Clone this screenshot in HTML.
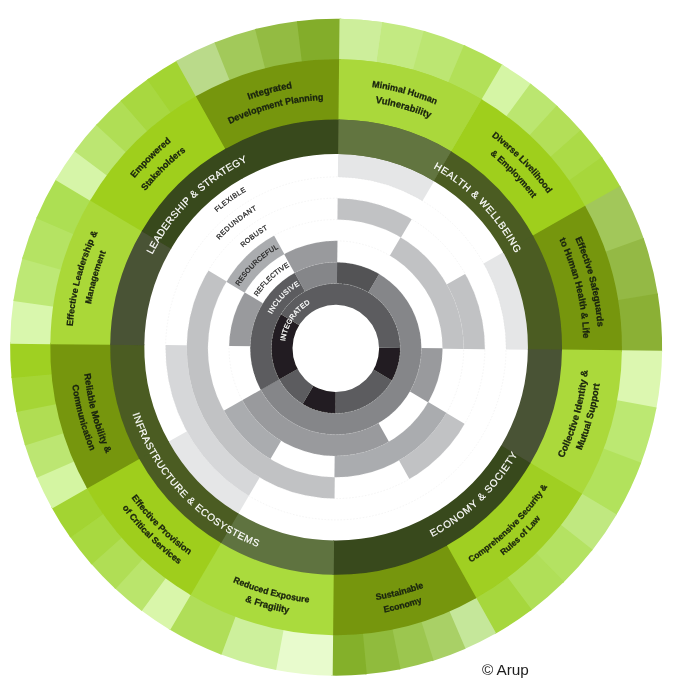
<!DOCTYPE html>
<html lang="en"><head><meta charset="utf-8"><title>City Resilience Framework</title>
<style>html,body{margin:0;padding:0;background:#fff}body{width:679px;height:700px;overflow:hidden}svg{display:block}text{font-family:"Liberation Sans",Arial,sans-serif}.lab{font-weight:700;font-size:9.3px;fill:#1a240e;stroke:#1a240e;stroke-width:0.28px}.ttl{font-size:10px;fill:#fff;letter-spacing:0.45px;stroke:#fff;stroke-width:0.18px}.q{font-size:6.6px;letter-spacing:0.6px;fill:#262626;stroke:#262626;stroke-width:0.26px}.qw{fill:#fff;stroke:#fff}</style></head><body>
<svg width="679" height="700" viewBox="0 0 679 700">
<defs><filter id="noaa" x="0" y="0" width="679" height="700" filterUnits="userSpaceOnUse"><feGaussianBlur stdDeviation="0.42"/></filter></defs>
<rect width="679" height="700" fill="#fff"/>
<g filter="url(#noaa)">
<g transform="translate(335.8,348.4) scale(1,1.0075) rotate(0.6)">
<circle r="195.35" fill="#fff"/>
<defs>
<clipPath id="c0"><circle r="195.35"/></clipPath>
<clipPath id="c1"><circle r="170.2"/></clipPath>
<clipPath id="c2"><circle r="149.05"/></clipPath>
<clipPath id="c3"><circle r="127.9"/></clipPath>
<clipPath id="c4"><circle r="106.75"/></clipPath>
<clipPath id="c5"><circle r="85.6"/></clipPath>
<clipPath id="c6"><circle r="64.45"/></clipPath>
</defs>
<g clip-path="url(#c0)">
<path d="M0.3,-1.2L0.3,-200.55A199.35,199.35 0 0 1 100.43,-173.58Z" fill="#e5e6e7"/>
<path d="M0.3,-1.2L172.94,-100.88A199.35,199.35 0 0 1 199.65,-0.68Z" fill="#e5e6e7"/>
<path d="M0.3,-1.2L-99.38,171.44A199.35,199.35 0 0 1 -172.6,98.02Z" fill="#e5e6e7"/>
</g>
<g clip-path="url(#c1)">
<circle r="171.2" fill="#fff"/>
<path d="M0.3,-1.2L-86.8,149.66A174.2,174.2 0 0 1 -173.9,-1.66Z" fill="#d6d7d9"/>
</g>
<g clip-path="url(#c2)">
<circle r="150.05" fill="#fff"/>
<path d="M0.3,-1.2L0.3,-154.25A153.05,153.05 0 0 1 77.17,-133.54Z" fill="#c1c2c4"/>
<path d="M0.3,-1.2L132.85,-77.73A153.05,153.05 0 0 1 153.35,-0.8Z" fill="#c1c2c4"/>
<path d="M0.3,-1.2L132.85,75.32A153.05,153.05 0 0 1 76.48,131.55Z" fill="#c1c2c4"/>
<path d="M0.3,-1.2L0.3,151.85A153.05,153.05 0 0 1 -132.04,-78.07Z" fill="#c1c2c4"/>
</g>
<g clip-path="url(#c3)">
<circle r="128.9" fill="#fff"/>
<path d="M0.3,-1.2L66.25,-115.43A131.9,131.9 0 0 1 132.2,-0.85Z" fill="#c1c2c4"/>
<path d="M0.3,-1.2L114.53,64.75A131.9,131.9 0 0 1 -0.05,130.7Z" fill="#aaacaf"/>
<path d="M0.3,-1.2L-65.65,113.03A131.9,131.9 0 0 1 -114.1,64.45Z" fill="#aaacaf"/>
<path d="M0.3,-1.2L-113.93,-67.15A131.9,131.9 0 0 1 -65.35,-115.6Z" fill="#aaacaf"/>
</g>
<g clip-path="url(#c4)">
<circle r="107.75" fill="#fff"/>
<path d="M0.3,-1.2L111.05,-1.2A110.75,110.75 0 0 1 96.07,54.43Z" fill="#999a9d"/>
<path d="M0.3,-1.2L55.68,94.71A110.75,110.75 0 0 1 -95.76,53.92Z" fill="#999a9d"/>
<path d="M0.3,-1.2L-110.45,-1.2A110.75,110.75 0 0 1 -95.47,-56.83Z" fill="#999a9d"/>
<path d="M0.3,-1.2L-55.08,-97.11A110.75,110.75 0 0 1 0.59,-111.95Z" fill="#999a9d"/>
</g>
<g clip-path="url(#c5)">
<circle r="86.6" fill="#fff"/>
<path d="M0.3,-1.2L0.3,-90.8A89.6,89.6 0 0 1 45.3,-78.68Z" fill="#525355"/>
<path d="M0.3,-1.2L45.1,-78.8A89.6,89.6 0 1 1 -77.41,43.4Z" fill="#858689"/>
<path d="M0.3,-1.2L-77.3,43.6A89.6,89.6 0 0 1 -44.3,-78.91Z" fill="#5b5c5e"/>
<path d="M0.3,-1.2L-44.5,-78.8A89.6,89.6 0 0 1 0.53,-90.8Z" fill="#858689"/>
</g>
<g clip-path="url(#c6)">
<circle r="65.45" fill="#fff"/>
<path d="M0.3,-1.2L68.75,-1.2A68.45,68.45 0 0 1 59.49,33.18Z" fill="#231f20"/>
<path d="M0.3,-1.2L59.58,33.02A68.45,68.45 0 0 1 0.12,67.25Z" fill="#5b5c5e"/>
<path d="M0.3,-1.2L0.3,67.25A68.45,68.45 0 0 1 -34.08,57.99Z" fill="#231f20"/>
<path d="M0.3,-1.2L-33.92,58.08A68.45,68.45 0 0 1 -59.07,32.87Z" fill="#5b5c5e"/>
<path d="M0.3,-1.2L-58.98,33.03A68.45,68.45 0 0 1 -58.89,-35.58Z" fill="#231f20"/>
<path d="M0.3,-1.2L-58.98,-35.42A68.45,68.45 0 0 1 68.75,-1.02Z" fill="#5b5c5e"/>
</g>
<circle r="43.3" fill="#fff"/>
<circle r="64.45" fill="none" stroke="#d9d9d9" stroke-opacity="0.55" stroke-width="0.5" stroke-dasharray="1.6 1.6"/>
<circle r="85.6" fill="none" stroke="#d9d9d9" stroke-opacity="0.55" stroke-width="0.5" stroke-dasharray="1.6 1.6"/>
<circle r="106.75" fill="none" stroke="#d9d9d9" stroke-opacity="0.55" stroke-width="0.5" stroke-dasharray="1.6 1.6"/>
<circle r="127.9" fill="none" stroke="#d9d9d9" stroke-opacity="0.55" stroke-width="0.5" stroke-dasharray="1.6 1.6"/>
<circle r="149.05" fill="none" stroke="#d9d9d9" stroke-opacity="0.55" stroke-width="0.5" stroke-dasharray="1.6 1.6"/>
<circle r="170.2" fill="none" stroke="#d9d9d9" stroke-opacity="0.55" stroke-width="0.5" stroke-dasharray="1.6 1.6"/>
</g>
<g transform="translate(336.1,347.2) scale(1,1.0075) rotate(0.6)">
<path d="M0,-326A326,326 0 0 1 44.24,-322.98L38.65,-282.16A284.8,284.8 0 0 0 0,-284.8Z" fill="#cdee9b"/>
<path d="M42.55,-323.21A326,326 0 0 1 86.02,-314.45L75.15,-274.71A284.8,284.8 0 0 0 37.17,-282.36Z" fill="#c3ea82"/>
<path d="M84.38,-314.89A326,326 0 0 1 126.33,-300.53L110.36,-262.55A284.8,284.8 0 0 0 73.71,-275.1Z" fill="#bce672"/>
<path d="M124.75,-301.18A326,326 0 0 1 164.48,-281.47L143.69,-245.9A284.8,284.8 0 0 0 108.99,-263.12Z" fill="#b2e058"/>
<path d="M163,-282.32A326,326 0 0 1 193,-262.73L168.61,-229.53A284.8,284.8 0 0 0 142.4,-246.64Z" fill="#d5f5a5"/>
<path d="M191.62,-263.74A326,326 0 0 1 219.4,-241.12L191.67,-210.65A284.8,284.8 0 0 0 167.4,-230.41Z" fill="#bbe670"/>
<path d="M218.14,-242.27A326,326 0 0 1 243.4,-216.87L212.64,-189.46A284.8,284.8 0 0 0 190.57,-211.65Z" fill="#b3df58"/>
<path d="M242.27,-218.14A326,326 0 0 1 264.74,-190.23L231.28,-166.19A284.8,284.8 0 0 0 211.65,-190.57Z" fill="#acdb47"/>
<path d="M263.74,-191.62A326,326 0 0 1 283.17,-161.52L247.39,-141.11A284.8,284.8 0 0 0 230.41,-167.4Z" fill="#a7d73b"/>
<path d="M282.32,-163A326,326 0 0 1 306.92,-109.89L268.13,-96A284.8,284.8 0 0 0 246.64,-142.4Z" fill="#a2c75a"/>
<path d="M306.34,-111.5A326,326 0 0 1 321.34,-54.93L280.73,-47.99A284.8,284.8 0 0 0 267.62,-97.41Z" fill="#94b944"/>
<path d="M321.05,-56.61A326,326 0 0 1 326,1.71L284.8,1.49A284.8,284.8 0 0 0 280.47,-49.46Z" fill="#8bb035"/>
<path d="M326,-0A326,326 0 0 1 320.75,58.29L280.21,50.92A284.8,284.8 0 0 0 284.8,-0Z" fill="#dcf7b0"/>
<path d="M321.05,56.61A326,326 0 0 1 305.75,113.1L267.11,98.81A284.8,284.8 0 0 0 280.47,49.46Z" fill="#bce872"/>
<path d="M306.34,111.5A326,326 0 0 1 281.47,164.48L245.9,143.69A284.8,284.8 0 0 0 267.62,97.41Z" fill="#b2e25c"/>
<path d="M282.32,163A326,326 0 0 1 257.59,199.81L225.04,174.56A284.8,284.8 0 0 0 246.64,142.4Z" fill="#c0e880"/>
<path d="M258.63,198.46A326,326 0 0 1 229.31,231.72L200.33,202.44A284.8,284.8 0 0 0 225.95,173.38Z" fill="#b4e262"/>
<path d="M230.52,230.52A326,326 0 0 1 197.1,259.67L172.19,226.85A284.8,284.8 0 0 0 201.38,201.38Z" fill="#b0df58"/>
<path d="M198.46,258.63A326,326 0 0 1 161.52,283.17L141.11,247.39A284.8,284.8 0 0 0 173.38,225.95Z" fill="#a6d73d"/>
<path d="M163,282.32A326,326 0 0 1 131.03,298.51L114.47,260.78A284.8,284.8 0 0 0 142.4,246.64Z" fill="#c5e79a"/>
<path d="M132.6,297.82A326,326 0 0 1 99.11,310.57L86.59,271.32A284.8,284.8 0 0 0 115.84,260.18Z" fill="#a9d066"/>
<path d="M100.74,310.04A326,326 0 0 1 66.11,319.23L57.75,278.88A284.8,284.8 0 0 0 88.01,270.86Z" fill="#9cc650"/>
<path d="M67.78,318.88A326,326 0 0 1 32.38,324.39L28.29,283.39A284.8,284.8 0 0 0 59.21,278.58Z" fill="#90bb3c"/>
<path d="M34.08,324.21A326,326 0 0 1 -1.71,326L-1.49,284.8A284.8,284.8 0 0 0 29.77,283.24Z" fill="#84b02a"/>
<path d="M0,326A326,326 0 0 1 -58.29,320.75L-50.92,280.21A284.8,284.8 0 0 0 0,284.8Z" fill="#e8fbcd"/>
<path d="M-56.61,321.05A326,326 0 0 1 -113.1,305.75L-98.81,267.11A284.8,284.8 0 0 0 -49.46,280.47Z" fill="#cdf09c"/>
<path d="M-111.5,306.34A326,326 0 0 1 -164.48,281.47L-143.69,245.9A284.8,284.8 0 0 0 -97.41,267.62Z" fill="#b0de58"/>
<path d="M-163,282.32A326,326 0 0 1 -193,262.73L-168.61,229.53A284.8,284.8 0 0 0 -142.4,246.64Z" fill="#d9f6aa"/>
<path d="M-191.62,263.74A326,326 0 0 1 -219.4,241.12L-191.67,210.65A284.8,284.8 0 0 0 -167.4,230.41Z" fill="#bae56c"/>
<path d="M-218.14,242.27A326,326 0 0 1 -243.4,216.87L-212.64,189.46A284.8,284.8 0 0 0 -190.57,211.65Z" fill="#b0de55"/>
<path d="M-242.27,218.14A326,326 0 0 1 -264.74,190.23L-231.28,166.19A284.8,284.8 0 0 0 -211.65,190.57Z" fill="#a8d93f"/>
<path d="M-263.74,191.62A326,326 0 0 1 -283.17,161.52L-247.39,141.11A284.8,284.8 0 0 0 -230.41,167.4Z" fill="#a3d430"/>
<path d="M-282.32,163A326,326 0 0 1 -298.51,131.03L-260.78,114.47A284.8,284.8 0 0 0 -246.64,142.4Z" fill="#d4f5a2"/>
<path d="M-297.82,132.6A326,326 0 0 1 -310.57,99.11L-271.32,86.59A284.8,284.8 0 0 0 -260.18,115.84Z" fill="#bce672"/>
<path d="M-310.04,100.74A326,326 0 0 1 -319.23,66.11L-278.88,57.75A284.8,284.8 0 0 0 -270.86,88.01Z" fill="#b0dd52"/>
<path d="M-318.88,67.78A326,326 0 0 1 -324.39,32.38L-283.39,28.29A284.8,284.8 0 0 0 -278.58,59.21Z" fill="#a5d535"/>
<path d="M-324.21,34.08A326,326 0 0 1 -326,-1.71L-284.8,-1.49A284.8,284.8 0 0 0 -283.24,29.77Z" fill="#9fd021"/>
<path d="M-326,0A326,326 0 0 1 -322.98,-44.24L-282.16,-38.65A284.8,284.8 0 0 0 -284.8,0Z" fill="#d9f7ad"/>
<path d="M-323.21,-42.55A326,326 0 0 1 -314.45,-86.02L-274.71,-75.15A284.8,284.8 0 0 0 -282.36,-37.17Z" fill="#bde874"/>
<path d="M-314.89,-84.38A326,326 0 0 1 -300.53,-126.33L-262.55,-110.36A284.8,284.8 0 0 0 -275.1,-73.71Z" fill="#b5e364"/>
<path d="M-301.18,-124.75A326,326 0 0 1 -281.47,-164.48L-245.9,-143.69A284.8,284.8 0 0 0 -263.12,-108.99Z" fill="#addf52"/>
<path d="M-282.32,-163A326,326 0 0 1 -262.73,-193L-229.53,-168.61A284.8,284.8 0 0 0 -246.64,-142.4Z" fill="#d6f5a8"/>
<path d="M-263.74,-191.62A326,326 0 0 1 -241.12,-219.4L-210.65,-191.67A284.8,284.8 0 0 0 -230.41,-167.4Z" fill="#bce672"/>
<path d="M-242.27,-218.14A326,326 0 0 1 -216.87,-243.4L-189.46,-212.64A284.8,284.8 0 0 0 -211.65,-190.57Z" fill="#b0de55"/>
<path d="M-218.14,-242.27A326,326 0 0 1 -190.23,-264.74L-166.19,-231.28A284.8,284.8 0 0 0 -190.57,-211.65Z" fill="#a8d840"/>
<path d="M-191.62,-263.74A326,326 0 0 1 -161.52,-283.17L-141.11,-247.39A284.8,284.8 0 0 0 -167.4,-230.41Z" fill="#a3d432"/>
<path d="M-163,-282.32A326,326 0 0 1 -123.18,-301.83L-107.61,-263.69A284.8,284.8 0 0 0 -142.4,-246.64Z" fill="#bada8a"/>
<path d="M-124.75,-301.18A326,326 0 0 1 -82.73,-315.33L-72.27,-275.48A284.8,284.8 0 0 0 -108.99,-263.12Z" fill="#a2c95a"/>
<path d="M-84.38,-314.89A326,326 0 0 1 -40.86,-323.43L-35.69,-282.55A284.8,284.8 0 0 0 -73.71,-275.1Z" fill="#93bb42"/>
<path d="M-42.55,-323.21A326,326 0 0 1 1.71,-326L1.49,-284.8A284.8,284.8 0 0 0 -37.17,-282.36Z" fill="#83ad2a"/>
<path d="M0,-326A326,326 0 0 1 42.55,-323.21L37.17,-282.36A284.8,284.8 0 0 0 0,-284.8Z" fill="#cdee9b"/>
<path d="M0,-285.8A285.8,285.8 0 0 1 144.19,-246.76L113.47,-194.18A224.9,224.9 0 0 0 0,-224.9Z" fill="#aad83b"/>
<path d="M142.9,-247.51A285.8,285.8 0 0 1 248.25,-141.6L195.36,-111.43A224.9,224.9 0 0 0 112.45,-194.77Z" fill="#9fcf1e"/>
<path d="M247.51,-142.9A285.8,285.8 0 0 1 285.8,1.5L224.9,1.18A224.9,224.9 0 0 0 194.77,-112.45Z" fill="#76960d"/>
<path d="M285.8,-0A285.8,285.8 0 0 1 246.76,144.19L194.18,113.47A224.9,224.9 0 0 0 224.9,-0Z" fill="#abd93b"/>
<path d="M247.51,142.9A285.8,285.8 0 0 1 141.6,248.25L111.43,195.36A224.9,224.9 0 0 0 194.77,112.45Z" fill="#a0cf20"/>
<path d="M142.9,247.51A285.8,285.8 0 0 1 -1.5,285.8L-1.18,224.9A224.9,224.9 0 0 0 112.45,194.77Z" fill="#76960d"/>
<path d="M0,285.8A285.8,285.8 0 0 1 -144.19,246.76L-113.47,194.18A224.9,224.9 0 0 0 0,224.9Z" fill="#aadb3c"/>
<path d="M-142.9,247.51A285.8,285.8 0 0 1 -248.25,141.6L-195.36,111.43A224.9,224.9 0 0 0 -112.45,194.77Z" fill="#9fce1d"/>
<path d="M-247.51,142.9A285.8,285.8 0 0 1 -285.8,-1.5L-224.9,-1.18A224.9,224.9 0 0 0 -194.77,112.45Z" fill="#76960d"/>
<path d="M-285.8,0A285.8,285.8 0 0 1 -246.76,-144.19L-194.18,-113.47A224.9,224.9 0 0 0 -224.9,0Z" fill="#aad838"/>
<path d="M-247.51,-142.9A285.8,285.8 0 0 1 -141.6,-248.25L-111.43,-195.36A224.9,224.9 0 0 0 -194.77,-112.45Z" fill="#9fcf1e"/>
<path d="M-142.9,-247.51A285.8,285.8 0 0 1 1.5,-285.8L1.18,-224.9A224.9,224.9 0 0 0 -112.45,-194.77Z" fill="#76960d"/>
<path d="M0,-285.8A285.8,285.8 0 0 1 142.9,-247.51L112.45,-194.77A224.9,224.9 0 0 0 0,-224.9Z" fill="#aad83b"/>
<path d="M0,-225.9A225.9,225.9 0 0 1 113.97,-195.04L96.77,-165.6A191.8,191.8 0 0 0 0,-191.8Z" fill="#62743f"/>
<path d="M112.95,-195.64A225.9,225.9 0 0 1 196.22,-111.92L166.6,-95.03A191.8,191.8 0 0 0 95.9,-166.1Z" fill="#4b5c22"/>
<path d="M195.64,-112.95A225.9,225.9 0 0 1 225.9,1.18L191.8,1A191.8,191.8 0 0 0 166.1,-95.9Z" fill="#4b5c22"/>
<path d="M225.9,-0A225.9,225.9 0 0 1 195.04,113.97L165.6,96.77A191.8,191.8 0 0 0 191.8,-0Z" fill="#4a5235"/>
<path d="M195.64,112.95A225.9,225.9 0 0 1 111.92,196.22L95.03,166.6A191.8,191.8 0 0 0 166.1,95.9Z" fill="#38481c"/>
<path d="M112.95,195.64A225.9,225.9 0 0 1 -1.18,225.9L-1,191.8A191.8,191.8 0 0 0 95.9,166.1Z" fill="#38481c"/>
<path d="M0,225.9A225.9,225.9 0 0 1 -113.97,195.04L-96.77,165.6A191.8,191.8 0 0 0 0,191.8Z" fill="#5f7340"/>
<path d="M-112.95,195.64A225.9,225.9 0 0 1 -196.22,111.92L-166.6,95.03A191.8,191.8 0 0 0 -95.9,166.1Z" fill="#4b5c22"/>
<path d="M-195.64,112.95A225.9,225.9 0 0 1 -225.9,-1.18L-191.8,-1A191.8,191.8 0 0 0 -166.1,95.9Z" fill="#4b5c22"/>
<path d="M-225.9,0A225.9,225.9 0 0 1 -195.04,-113.97L-165.6,-96.77A191.8,191.8 0 0 0 -191.8,0Z" fill="#4a5235"/>
<path d="M-195.64,-112.95A225.9,225.9 0 0 1 -111.92,-196.22L-95.03,-166.6A191.8,191.8 0 0 0 -166.1,-95.9Z" fill="#38481c"/>
<path d="M-112.95,-195.64A225.9,225.9 0 0 1 1.18,-225.9L1,-191.8A191.8,191.8 0 0 0 -95.9,-166.1Z" fill="#38481c"/>
<path d="M0,-225.9A225.9,225.9 0 0 1 112.95,-195.64L95.9,-166.1A191.8,191.8 0 0 0 0,-191.8Z" fill="#62743f"/>
<defs>
<path id="p0" d="M5.83,-260.73A260.8,260.8 0 0 1 122.04,-230.49"/>
<path id="p1" d="M11.15,-245.55A245.8,245.8 0 0 1 114.64,-217.43"/>
<path id="p2" d="M130.32,-225.9A260.8,260.8 0 0 1 225.04,-131.82"/>
<path id="p3" d="M130.73,-208.15A245.8,245.8 0 0 1 209.49,-128.58"/>
<path id="p4" d="M225.07,-134.7A262.3,262.3 0 0 1 262.26,4.44"/>
<path id="p5" d="M209.33,-131.67A247.3,247.3 0 0 1 246.87,14.62"/>
<path id="p6" d="M215.9,131.12A252.6,252.6 0 0 0 252.53,-6"/>
<path id="p7" d="M234.67,125.25A266,266 0 0 0 265.93,5.99"/>
<path id="p8" d="M113.93,225.45A252.6,252.6 0 0 0 225.82,113.18"/>
<path id="p9" d="M147.05,221.66A266,266 0 0 0 222.66,145.54"/>
<path id="p10" d="M16.36,253.67A254.2,254.2 0 0 0 114.61,226.9"/>
<path id="p11" d="M23.18,266.59A267.6,267.6 0 0 0 114.78,241.73"/>
<path id="p12" d="M-124.62,222.25A254.8,254.8 0 0 0 2.13,254.79"/>
<path id="p13" d="M-114.53,242.51A268.2,268.2 0 0 0 -16.89,267.67"/>
<path id="p14" d="M-217.82,129.28A253.3,253.3 0 0 0 -122.65,221.63"/>
<path id="p15" d="M-227.84,138.64A266.7,266.7 0 0 0 -131.61,231.96"/>
<path id="p16" d="M-253.09,2.61A253.1,253.1 0 0 0 -216.29,131.45"/>
<path id="p17" d="M-266.21,12.46A266.5,266.5 0 0 0 -232.29,130.62"/>
<path id="p18" d="M-264.03,9.5A264.2,264.2 0 0 1 -226.63,-135.8"/>
<path id="p19" d="M-248.39,-14.24A248.8,248.8 0 0 1 -220.29,-115.65"/>
<path id="p20" d="M-219.52,-143.38A262.2,262.2 0 0 1 -144.87,-218.54"/>
<path id="p21" d="M-207.33,-132.03A245.8,245.8 0 0 1 -131.34,-207.77"/>
<path id="p22" d="M-115.06,-234.05A260.8,260.8 0 0 1 -19.37,-260.08"/>
<path id="p23" d="M-131.13,-207.9A245.8,245.8 0 0 1 10.64,-245.57"/>
</defs>
<text class="lab" text-anchor="middle" style="font-size:9.01px;letter-spacing:0.000px"><textPath href="#p0" startOffset="50%">Minimal Human</textPath></text>
<text class="lab" text-anchor="middle" style="font-size:9.49px;letter-spacing:-0.000px"><textPath href="#p1" startOffset="50%">Vulnerability</textPath></text>
<text class="lab" text-anchor="middle" style="font-size:9.04px;letter-spacing:0.000px"><textPath href="#p2" startOffset="50%">Diverse Livelihood</textPath></text>
<text class="lab" text-anchor="middle" style="font-size:8.78px;letter-spacing:0.000px"><textPath href="#p3" startOffset="50%">&amp; Employment</textPath></text>
<text class="lab" text-anchor="middle" style="font-size:9.20px;letter-spacing:0.000px"><textPath href="#p4" startOffset="50%">Effective Safeguards</textPath></text>
<text class="lab" text-anchor="middle" style="font-size:9.24px;letter-spacing:0.000px"><textPath href="#p5" startOffset="50%">to Human Health &amp; Life</textPath></text>
<text class="lab" text-anchor="middle" style="font-size:9.52px;letter-spacing:0.000px"><textPath href="#p6" startOffset="50%">Collective Identity &amp;</textPath></text>
<text class="lab" text-anchor="middle" style="font-size:9.37px;letter-spacing:0.000px"><textPath href="#p7" startOffset="50%">Mutual Support</textPath></text>
<text class="lab" text-anchor="middle" style="font-size:8.51px;letter-spacing:0.000px"><textPath href="#p8" startOffset="50%">Comprehensive Security &amp;</textPath></text>
<text class="lab" text-anchor="middle" style="font-size:8.48px;letter-spacing:-0.000px"><textPath href="#p9" startOffset="50%">Rules of Law</textPath></text>
<text class="lab" text-anchor="middle" style="font-size:8.78px;letter-spacing:0.000px"><textPath href="#p10" startOffset="50%">Sustainable</textPath></text>
<text class="lab" text-anchor="middle" style="font-size:8.75px;letter-spacing:0.000px"><textPath href="#p11" startOffset="50%">Economy</textPath></text>
<text class="lab" text-anchor="middle" style="font-size:8.72px;letter-spacing:0.000px"><textPath href="#p12" startOffset="50%">Reduced Exposure</textPath></text>
<text class="lab" text-anchor="middle" style="font-size:9.26px;letter-spacing:0.000px"><textPath href="#p13" startOffset="50%">&amp; Fragility</textPath></text>
<text class="lab" text-anchor="middle" style="font-size:9.01px;letter-spacing:0.000px"><textPath href="#p14" startOffset="50%">Effective Provision</textPath></text>
<text class="lab" text-anchor="middle" style="font-size:8.85px;letter-spacing:0.000px"><textPath href="#p15" startOffset="50%">of Critical Services</textPath></text>
<text class="lab" text-anchor="middle" style="font-size:9.29px;letter-spacing:0.000px"><textPath href="#p16" startOffset="50%">Reliable Mobility &amp;</textPath></text>
<text class="lab" text-anchor="middle" style="font-size:9.03px;letter-spacing:0.000px"><textPath href="#p17" startOffset="50%">Communication</textPath></text>
<text class="lab" text-anchor="middle" style="font-size:8.98px;letter-spacing:0.000px"><textPath href="#p18" startOffset="50%">Effective Leadership &amp;</textPath></text>
<text class="lab" text-anchor="middle" style="font-size:8.82px;letter-spacing:0.000px"><textPath href="#p19" startOffset="50%">Management</textPath></text>
<text class="lab" text-anchor="middle" style="font-size:9.13px;letter-spacing:0.000px"><textPath href="#p20" startOffset="50%">Empowered</textPath></text>
<text class="lab" text-anchor="middle" style="font-size:9.02px;letter-spacing:-0.000px"><textPath href="#p21" startOffset="50%">Stakeholders</textPath></text>
<text class="lab" text-anchor="middle" style="font-size:9.34px;letter-spacing:0.000px"><textPath href="#p22" startOffset="50%">Integrated</textPath></text>
<text class="lab" text-anchor="middle" style="font-size:9.04px;letter-spacing:0.000px"><textPath href="#p23" startOffset="50%">Development Planning</textPath></text>
</g>
<g transform="translate(334.1,347.7) scale(1,1.0075) rotate(0.6)"><defs>
<path id="t0" d="M71.55,-191.04A204,204 0 0 1 191.92,-69.15"/>
<path id="t1" d="M73.53,198.84A212,212 0 0 0 197.51,77.02"/>
<path id="t2" d="M-208.26,39.64A212,212 0 0 0 -45.76,207"/>
<path id="t3" d="M-193.59,-64.33A204,204 0 0 1 -62.05,-194.33"/>
</defs>
<text class="ttl" text-anchor="middle" style="font-size:10.0px;letter-spacing:0.619px"><textPath href="#t0" startOffset="50%">HEALTH &amp; WELLBEING</textPath></text>
<text class="ttl" text-anchor="middle" style="font-size:10.0px;letter-spacing:0.767px"><textPath href="#t1" startOffset="50%">ECONOMY &amp; SOCIETY</textPath></text>
<text class="ttl" text-anchor="middle" style="font-size:10.0px;letter-spacing:0.556px"><textPath href="#t2" startOffset="50%">INFRASTRUCTURE &amp; ECOSYSTEMS</textPath></text>
<text class="ttl" text-anchor="middle" style="font-size:10.0px;letter-spacing:0.321px"><textPath href="#t3" startOffset="50%">LEADERSHIP &amp; STRATEGY</textPath></text>
</g>
<g transform="translate(335.8,348.4) scale(1,1.0075) rotate(0.6)">
<defs>
<path id="q0" d="M-137.5,-115.95A179.87,179.87 0 0 1 -68.4,-166.36"/>
<path id="q1" d="M-131.27,-89.21A158.72,158.72 0 0 1 -60.23,-146.85"/>
<path id="q2" d="M-106.56,-85.25A136.47,136.47 0 0 1 -51.89,-126.22"/>
<path id="q3" d="M-104.9,-46.68A114.82,114.82 0 0 1 -43.94,-106.08"/>
<path id="q4" d="M-85.13,-39.07A93.67,93.67 0 0 1 -35.39,-86.73"/>
<path id="q5" d="M-68.33,-24.3A72.52,72.52 0 0 1 -27.4,-67.14"/>
<path id="q6" d="M-51.37,0.48A51.37,51.37 0 0 1 -19.51,-47.52"/>
</defs>
<text class="q" text-anchor="middle" style="font-size:7.0px;letter-spacing:0.493px"><textPath href="#q0" startOffset="50%">FLEXIBLE</textPath></text>
<text class="q" text-anchor="middle" style="font-size:7.0px;letter-spacing:0.567px"><textPath href="#q1" startOffset="50%">REDUNDANT</textPath></text>
<text class="q" text-anchor="middle" style="font-size:7.0px;letter-spacing:0.354px"><textPath href="#q2" startOffset="50%">ROBUST</textPath></text>
<text class="q" text-anchor="middle" style="font-size:7.0px;letter-spacing:0.223px"><textPath href="#q3" startOffset="50%">RESOURCEFUL</textPath></text>
<text class="q" text-anchor="middle" style="font-size:7.0px;letter-spacing:0.134px"><textPath href="#q4" startOffset="50%">REFLECTIVE</textPath></text>
<text class="q qw" text-anchor="middle" style="font-size:7.0px;letter-spacing:0.478px"><textPath href="#q5" startOffset="50%">INCLUSIVE</textPath></text>
<text class="q qw" text-anchor="middle" style="font-size:7.0px;letter-spacing:0.246px"><textPath href="#q6" startOffset="50%">INTEGRATED</textPath></text>
</g>
<text x="481.9" y="675.1" font-size="15.3" fill="#1c1c1c">© Arup</text>
</g>
</svg></body></html>
